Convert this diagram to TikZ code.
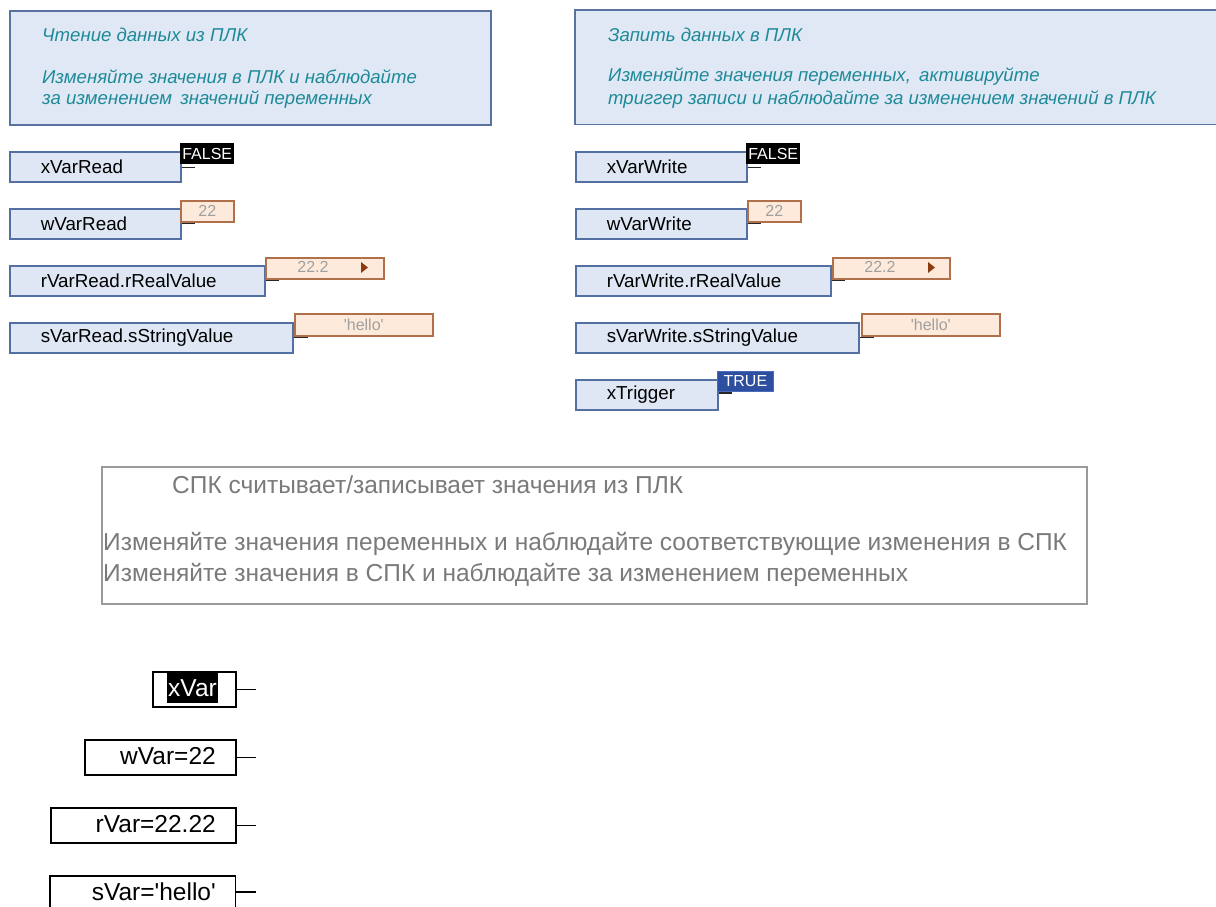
\documentclass[tikz,border=0pt]{standalone}
\usepackage{fontspec}
\setmainfont{Liberation Sans}[Ligatures=TeXOff]
\usetikzlibrary{calc}
\definecolor{cmtfill}{HTML}{E0E8F5}
\definecolor{cmtborder}{HTML}{5A72A0}
\definecolor{cmttext}{HTML}{1E8A98}
\definecolor{varfill}{HTML}{DFE7F4}
\definecolor{varborder}{HTML}{5470A3}
\definecolor{valfill}{HTML}{FDEADB}
\definecolor{valborder}{HTML}{B0704C}
\definecolor{valtext}{HTML}{A0A0A0}
\definecolor{tricol}{HTML}{8B3A12}
\definecolor{truefill}{HTML}{2E4FA0}
\definecolor{trueborder}{HTML}{4A6AC0}
\definecolor{midborder}{HTML}{9A9A9A}
\definecolor{midtext}{HTML}{7A7A7A}
\newcommand\VarBx[6]{\pgfmathsetmacro\bw{#4-#2}\pgfmathsetmacro\bh{#5-#3}%
  \node[varbox,minimum height=\bh pt,text width=\bw pt] (#1) at (#2,#3) {\hspace*{31pt}#6};}
\newcommand\ValBx[7]{\pgfmathsetmacro\bw{#4-#2}\pgfmathsetmacro\bh{#5-#3}%
  \node[#7,minimum height=\bh pt,minimum width=\bw pt] (#1) at (#2,#3) {#6};}
\begin{document}
\begin{tikzpicture}[x=1pt,y=-1pt,
  varbox/.style={draw=varborder,fill=varfill,line width=1.6pt,anchor=north west,inner xsep=0pt,inner ysep=0pt,align=left,font=\fontsize{18.8}{18.8}\selectfont},
  valbox/.style={draw=valborder,fill=valfill,line width=1.6pt,anchor=north west,inner sep=0pt,text=valtext,font=\fontsize{16}{16}\selectfont},
  falsebox/.style={fill=black,anchor=north west,inner sep=0pt,text=white,font=\fontsize{16}{16}\selectfont},
  truebox/.style={draw=trueborder,fill=truefill,line width=0.8pt,anchor=north west,inner sep=0pt,text=white,font=\fontsize{16}{16}\selectfont},
  pinline/.style={draw=black!85,line width=1.4pt},
  cmtbox/.style={fill=cmtfill,anchor=north west,inner sep=0pt},
  cmttxt/.style={anchor=west,inner sep=0pt,text=cmttext,font=\fontsize{18.6}{18.6}\selectfont\itshape},
  midtxt/.style={anchor=west,inner sep=0pt,text=midtext,font=\fontsize{24.5}{24.5}\selectfont},
  outbox/.style={draw=black,fill=white,line width=1.6pt,anchor=north west,inner sep=0pt},
  outtxt/.style={anchor=east,inner sep=0pt,text=black,font=\fontsize{24.5}{24.5}\selectfont},
  outpin/.style={draw=black,line width=1.4pt}]
\useasboundingbox (0,0) rectangle (1216,907);

% comment boxes
\node[cmtbox,draw=cmtborder,line width=1.6pt,minimum width=481pt,minimum height=114pt] (cL) at (9,10) {};
\node[cmttxt] (cL1) at (42,35) {Чтение данных из ПЛК};
\node[cmttxt] (cL2) at (42,77) {Изменяйте значения в ПЛК и наблюдайте};
\node[cmttxt] (cL3) at (42,100) {за изменением\, значений переменных};

\node[cmtbox,minimum width=641pt,minimum height=114pt] (cR) at (575,10) {};
\draw[cmtborder,line width=1.6pt] (cR.north east) -- (cR.north west) -- (cR.south west) -- (cR.south east);
\node[cmttxt] (cR1) at (608,35) {Запить данных в ПЛК};
\node[cmttxt] (cR2) at (608,77) {Изменяйте значения переменных,\, активируйте};
\node[cmttxt] (cR3) at (608,100) {триггер записи и наблюдайте за изменением значений в ПЛК};

% left variables
\VarBx{xr}{9}{151}{180}{181}{xVarRead}
\ValBx{xrv}{180}{143}{234}{164}{FALSE}{falsebox}
\draw[pinline] (xr.east |- xrv.south) ++(0,3) coordinate (xrp) -- ++(13,0);
\VarBx{wr}{9}{208}{180}{238}{wVarRead}
\ValBx{wrv}{180}{200}{233}{221}{22}{valbox}
\draw[pinline] (wr.east |- wrv.south) ++(0,1) coordinate (wrp) -- ++(13,0);
\VarBx{rr}{9}{265}{264}{295}{rVarRead.rRealValue}
\ValBx{rrv}{265}{257}{383}{278}{}{valbox}
\node[inner sep=0pt,text=valtext,font=\fontsize{16}{16}\selectfont] (rrt) at (313,267) {22.2};
\fill[tricol] (361,262) -- (368,267.5) -- (361,273) -- cycle;
\draw[pinline] (rr.east |- rrv.south) ++(0,1) coordinate (rrp) -- ++(13,0);
\VarBx{sr}{9}{322}{292}{352}{sVarRead.sStringValue}
\ValBx{srv}{294}{313}{432}{335}{'hello'}{valbox}
\draw[pinline] (sr.east |- srv.south) ++(0,1) coordinate (srp) -- ++(14,0);

% right variables
\VarBx{xw}{575}{151}{746}{181}{xVarWrite}
\ValBx{xwv}{746}{143}{800}{164}{FALSE}{falsebox}
\draw[pinline] (xw.east |- xwv.south) ++(0,3) coordinate (xwp) -- ++(13,0);
\VarBx{ww}{575}{208}{746}{238}{wVarWrite}
\ValBx{wwv}{747}{200}{800}{221}{22}{valbox}
\draw[pinline] (ww.east |- wwv.south) ++(0,1) coordinate (wwp) -- ++(13,0);
\VarBx{rw}{575}{265}{830}{295}{rVarWrite.rRealValue}
\ValBx{rwv}{832}{257}{949}{278}{}{valbox}
\node[inner sep=0pt,text=valtext,font=\fontsize{16}{16}\selectfont] (rwt) at (880,267) {22.2};
\fill[tricol] (928,262) -- (935,267.5) -- (928,273) -- cycle;
\draw[pinline] (rw.east |- rwv.south) ++(0,1) coordinate (rwp) -- ++(13,0);
\VarBx{sw}{575}{322}{858}{352}{sVarWrite.sStringValue}
\ValBx{swv}{861}{313}{999}{335}{'hello'}{valbox}
\draw[pinline] (sw.east |- swv.south) ++(0,1) coordinate (swp) -- ++(14,0);
\VarBx{tw}{575}{379}{717}{409}{xTrigger}
\ValBx{twv}{717}{371}{773}{391}{TRUE}{truebox}
\draw[pinline] (tw.east |- twv.south) ++(0,1) coordinate (twp) -- ++(13,0);

% middle comment
\node[draw=midborder,fill=white,line width=1.8pt,anchor=north west,inner sep=0pt,minimum width=985pt,minimum height=137pt] (mid) at (101,466) {};
\node[midtxt] (m1) at (172,485) {СПК считывает/записывает значения из ПЛК};
\node[midtxt] (m2) at (103,544) {Изменяйте значения переменных и наблюдайте соответствующие изменения в СПК};
\node[midtxt] (m3) at (103,575) {Изменяйте значения в СПК и наблюдайте за изменением переменных};

% bottom output boxes
\node[outbox,minimum width=83pt,minimum height=35pt] (ob1) at (152,671) {};
\node[outtxt,fill=black,text=white,minimum height=30pt,inner xsep=1pt] (ot1) at (218,688) {xVar};
\coordinate (oe1) at (256,688);
\draw[outpin] (ob1.east) -- (ob1.east -| oe1);
\node[outbox,minimum width=151pt,minimum height=35pt] (ob2) at (84,739) {};
\node[outtxt] (ot2) at (216,756) {wVar=22};
\coordinate (oe2) at (256,756);
\draw[outpin] (ob2.east) -- (ob2.east -| oe2);
\node[outbox,minimum width=185pt,minimum height=35pt] (ob3) at (50,807) {};
\node[outtxt] (ot3) at (216,824) {rVar=22.22};
\coordinate (oe3) at (256,824);
\draw[outpin] (ob3.east) -- (ob3.east -| oe3);
\node[anchor=north west,fill=white,inner sep=0pt,minimum width=185pt,minimum height=32pt] (ob4) at (50,876) {};
\draw[black,line width=1.6pt] (ob4.south west) -- (ob4.north west) -- (ob4.north east) -- (ob4.south east);
\node[outtxt] (ot4) at (216,892) {sVar='hello'};
\coordinate (oe4) at (256,892);
\draw[outpin] (ob4.north east |- ot4) -- (oe4 |- ot4);
\end{tikzpicture}
\end{document}
